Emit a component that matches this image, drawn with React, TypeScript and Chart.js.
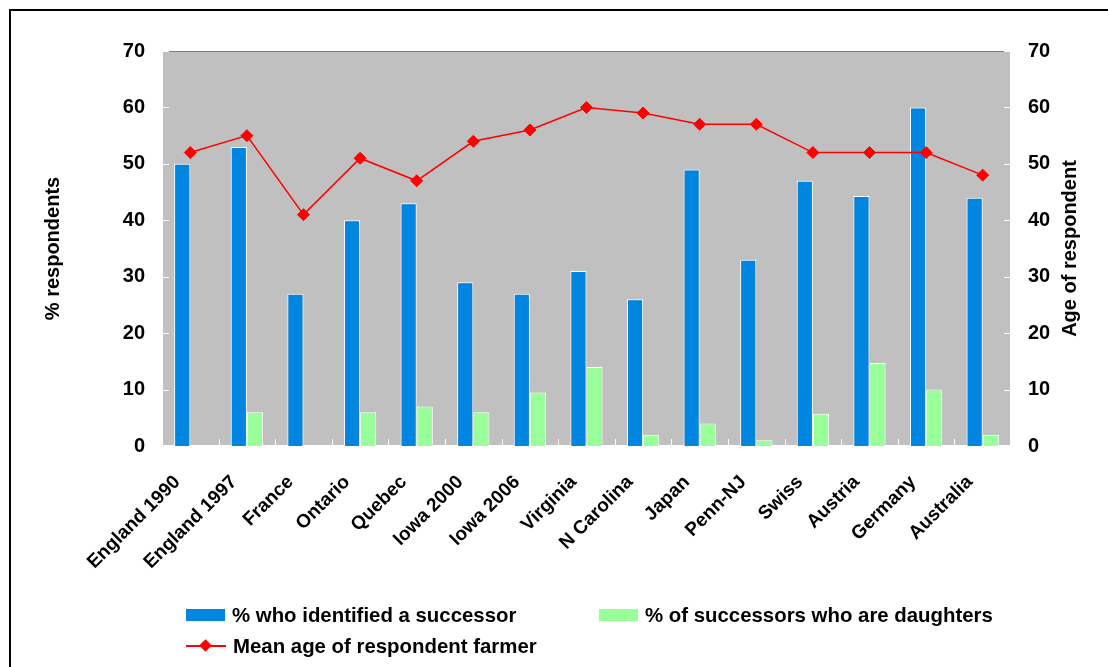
import React, { useEffect, useRef } from "react";
import { Chart, registerables } from "chart.js";

Chart.register(...registerables);

const categories = [
  "England 1990", "England 1997", "France", "Ontario", "Quebec", "Iowa 2000", "Iowa 2006",
  "Virginia", "N Carolina", "Japan", "Penn-NJ", "Swiss", "Austria", "Germany", "Australia",
];
const successorPct = [50, 53, 27, 40, 43, 29, 27, 31, 26, 49, 33, 47, 44.3, 60, 44];
const daughtersPct = [0, 6, 0, 6, 7, 6, 9.5, 14, 2, 4, 1, 5.7, 14.7, 10, 2];
const meanAge = [52, 55, 41, 51, 47, 54, 56, 60, 59, 57, 57, 52, 52, 52, 48];
const yTicks = [0, 10, 20, 30, 40, 50, 60, 70];

const FONT = "'Liberation Sans', Arial, Helvetica, sans-serif";
const BLUE = "#0086E0";
const GREEN = "#99FF99";
const RED = "#FF0000";
const PLOT_BG = "#C0C0C0";

const frame = {
  id: "frame",
  beforeDatasetsDraw(chart: any) {
    const { ctx, chartArea: a, scales } = chart;
    ctx.save();
    ctx.fillStyle = PLOT_BG;
    ctx.fillRect(a.left, a.top, a.right - a.left, a.bottom - a.top);
    ctx.strokeStyle = "#808080";
    ctx.lineWidth = 1;
    ctx.beginPath();
    ctx.moveTo(a.left + 7, a.top + 0.5);
    ctx.lineTo(a.right, a.top + 0.5);
    ctx.stroke();
    ctx.strokeStyle = "#FFFFFF";
    ctx.beginPath();
    ctx.moveTo(a.left + 0.5, a.top);
    ctx.lineTo(a.left + 0.5, a.bottom);
    ctx.moveTo(a.right - 0.5, a.top);
    ctx.lineTo(a.right - 0.5, a.bottom);
    ctx.moveTo(a.left, a.bottom - 0.5);
    ctx.lineTo(a.right, a.bottom - 0.5);
    yTicks.forEach((v) => {
      const y = Math.round(scales.y.getPixelForValue(v)) + 0.5;
      ctx.moveTo(a.left - 1, y);
      ctx.lineTo(a.left + 7, y);
      ctx.moveTo(a.right - 7, y);
      ctx.lineTo(a.right, y);
    });
    const n = categories.length;
    const w = (a.right - a.left) / n;
    for (let i = 1; i < n; i++) {
      const x = Math.round(a.left + i * w) + 0.5;
      ctx.moveTo(x, a.bottom);
      ctx.lineTo(x, a.bottom - 7);
    }
    ctx.stroke();
    ctx.restore();
  },
  afterDraw(chart: any) {
    const { ctx, chartArea: a } = chart;
    const cy = (a.top + a.bottom) / 2;
    const drawTitle = (text: string, x: number) => {
      ctx.save();
      ctx.fillStyle = "#000";
      ctx.font = `bold 20px ${FONT}`;
      ctx.textAlign = "center";
      ctx.textBaseline = "middle";
      ctx.translate(x, cy);
      ctx.rotate(-Math.PI / 2);
      ctx.fillText(text, 0, 0);
      ctx.restore();
    };
    drawTitle("% respondents", 53);
    drawTitle("Age of respondent", 1070);
  },
};

export default function App() {
  const ref = useRef<HTMLCanvasElement | null>(null);

  useEffect(() => {
    if (!ref.current) return;
    const chart = new Chart(ref.current, {
      type: "bar",
      data: {
        labels: categories,
        datasets: [
          {
            type: "line",
            label: "Mean age of respondent farmer",
            data: meanAge,
            yAxisID: "y1",
            borderColor: RED,
            backgroundColor: RED,
            borderWidth: 1.5,
            pointStyle: "rectRot",
            pointRadius: 6,
            pointBorderWidth: 1,
            pointBackgroundColor: RED,
            pointBorderColor: RED,
            order: 0,
          } as any,
          {
            type: "bar",
            label: "% who identified a successor",
            data: successorPct,
            yAxisID: "y",
            backgroundColor: BLUE,
            borderColor: "#FFFFFF",
            borderWidth: 1,
            barPercentage: 1,
            categoryPercentage: 0.57,
            order: 1,
          },
          {
            type: "bar",
            label: "% of successors who are daughters",
            data: daughtersPct,
            yAxisID: "y",
            backgroundColor: GREEN,
            borderColor: "#FFFFFF",
            borderWidth: 1,
            barPercentage: 1,
            categoryPercentage: 0.57,
            order: 1,
          },
        ],
      },
      options: {
        responsive: false,
        animation: false,
        devicePixelRatio: 1,
        layout: { padding: { left: 0, right: 0, top: 51, bottom: 0 } },
        plugins: { legend: { display: false }, tooltip: { enabled: false } },
        scales: {
          x: {
            grid: { display: false, drawTicks: false },
            border: { display: false },
            ticks: {
              autoSkip: false,
              maxRotation: 45,
              minRotation: 45,
              padding: 25,
              labelOffset: -13,
              color: "#000",
              font: { family: FONT, size: 19, weight: "bold" },
            },
            afterFit: (s: any) => { s.height = 221; },
          },
          y: {
            position: "left",
            min: 0,
            max: 70,
            grid: { display: false, drawTicks: false },
            border: { display: false },
            ticks: {
              stepSize: 10,
              padding: 17,
              color: "#000",
              font: { family: FONT, size: 20, weight: "bold" },
            },
            afterFit: (s: any) => { s.width = 162; },
          },
          y1: {
            position: "right",
            min: 0,
            max: 70,
            grid: { display: false, drawTicks: false },
            border: { display: false },
            ticks: {
              stepSize: 10,
              padding: 17,
              color: "#000",
              font: { family: FONT, size: 20, weight: "bold" },
            },
            afterFit: (s: any) => { s.width = 97; },
          },
        },
      } as any,
      plugins: [frame],
    });
    return () => chart.destroy();
  }, []);

  const legendText: React.CSSProperties = {
    position: "absolute",
    fontFamily: FONT,
    fontWeight: "bold",
    fontSize: 20.4,
    lineHeight: "22px",
    color: "#000",
    whiteSpace: "nowrap",
  };

  return (
    <div style={{ position: "absolute", left: 0, top: 0, width: 1108, height: 667, overflow: "hidden", background: "#fff" }}>
      <canvas ref={ref} width={1108} height={667} style={{ position: "absolute", left: 0, top: 0, width: 1108, height: 667 }} />
      <div style={{ position: "absolute", left: 9, top: 9, width: 1200, height: 800, borderLeft: "2px solid #000", borderTop: "2px solid #000", boxSizing: "border-box", pointerEvents: "none" }} />
      <div style={{ position: "absolute", left: 186, top: 609, width: 39, height: 12, background: BLUE }} />
      <div style={{ ...legendText, left: 232, top: 604 }}>% who identified a successor</div>
      <div style={{ position: "absolute", left: 599, top: 609, width: 39, height: 12, background: GREEN }} />
      <div style={{ ...legendText, left: 645, top: 604 }}>% of successors who are daughters</div>
      <div style={{ position: "absolute", left: 186, top: 645, width: 40, height: 2, background: RED }} />
      <div style={{ position: "absolute", left: 201, top: 641, width: 9, height: 9, background: RED, transform: "rotate(45deg)" }} />
      <div style={{ ...legendText, left: 233, top: 635 }}>Mean age of respondent farmer</div>
    </div>
  );
}
